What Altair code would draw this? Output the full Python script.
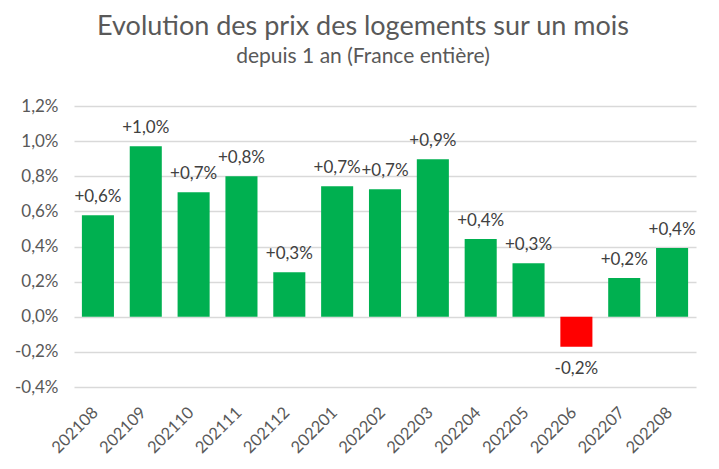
import altair as alt
import pandas as pd

months = ["202108", "202109", "202110", "202111", "202112", "202201", "202202",
          "202203", "202204", "202205", "202206", "202207", "202208"]
values = [0.578, 0.971, 0.709, 0.800, 0.254, 0.743, 0.726,
          0.897, 0.442, 0.305, -0.171, 0.220, 0.391]
labels = ["+0,6%", "+1,0%", "+0,7%", "+0,8%", "+0,3%", "+0,7%", "+0,7%",
          "+0,9%", "+0,4%", "+0,3%", "-0,2%", "+0,2%", "+0,4%"]
y_ticks = [-0.4, -0.2, 0.0, 0.2, 0.4, 0.6, 0.8, 1.0, 1.2]

df = pd.DataFrame({"month": months, "value": values, "label": labels})

FONT = "Lato"
GREY = "#595959"

x = alt.X("month:N", sort=months, title=None,
          scale=alt.Scale(paddingInner=0.33, paddingOuter=0.165),
          axis=alt.Axis(labelAngle=-45, labelFontSize=16.5, labelColor=GREY,
                        labelFont=FONT, domain=False, ticks=False,
                        labelAlign="right", labelBaseline="top",
                        labelPadding=17, labelOffset=-8))
y = alt.Y("value:Q", title=None,
          scale=alt.Scale(domain=[-0.4, 1.2], nice=False),
          axis=alt.Axis(values=y_ticks, labelFontSize=17, labelColor=GREY, labelFont=FONT,
                        domain=False, ticks=False, labelPadding=16,
                        gridColor="#D9D9D9", gridWidth=1.4,
                        labelExpr="(datum.value < 0 ? '-' : '') + replace(format(abs(datum.value), '.1f'), '.', ',') + '%'"))

base = alt.Chart(df)

bars = base.mark_bar().encode(
    x=x, y=y,
    color=alt.condition(alt.datum.value < 0, alt.value("#FF0000"), alt.value("#00B050")),
)

pos_text = base.transform_filter(alt.datum.value >= 0).mark_text(
    baseline="bottom", dy=-9, fontSize=17, font=FONT, color="#404040"
).encode(x=x, y=y, text="label:N")

neg_text = base.transform_filter(alt.datum.value < 0).mark_text(
    baseline="top", dy=14, fontSize=17, font=FONT, color="#404040"
).encode(x=x, y=y, text="label:N")

chart = (bars + pos_text + neg_text).properties(
    width=622, height=281,
    autosize=alt.AutoSizeParams(type="none"),
    padding={"left": 66, "top": 98, "right": 15, "bottom": 74},
    title=alt.TitleParams(
        text="Evolution des prix des logements sur un mois",
        subtitle="depuis 1 an (France entière)",
        fontSize=27, subtitleFontSize=21, font=FONT, subtitleFont=FONT,
        color=GREY, subtitleColor=GREY, fontWeight="normal",
        anchor="middle", dx=-22, offset=29, subtitlePadding=5,
    ),
).configure_view(stroke=None)

chart.save("out.html", embed_options={"renderer": "svg", "actions": False})
